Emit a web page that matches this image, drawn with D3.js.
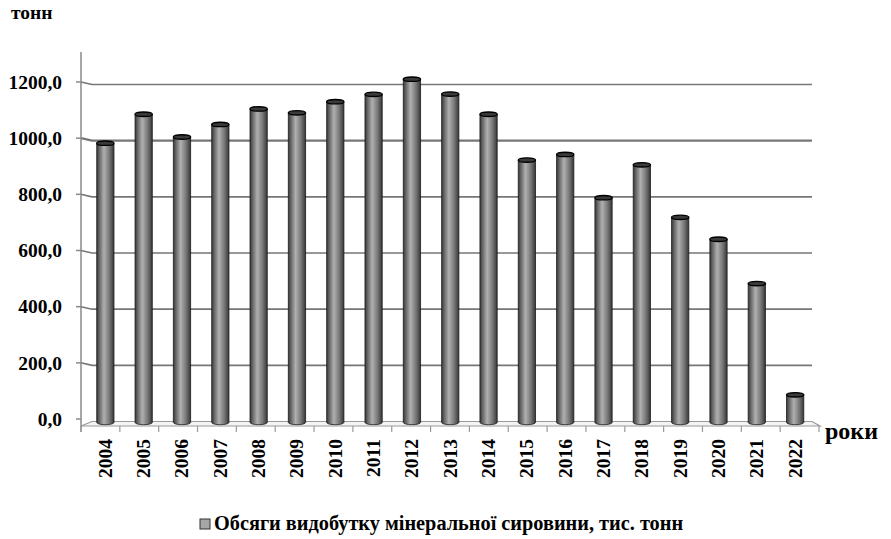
<!DOCTYPE html>
<html>
<head>
<meta charset="utf-8">
<script src="https://cdn.jsdelivr.net/npm/d3@7.9.0/dist/d3.min.js"></script>
<style>
  body { margin: 0; background: #fff; }
  svg { display: block; }
  text { font-family: "Liberation Serif", "Times New Roman", serif; font-weight: bold; fill: #000; }
</style>
</head>
<body>
<div id="chart"></div>
<script>
const years = ['2004', '2005', '2006', '2007', '2008', '2009', '2010', '2011', '2012', '2013',
  '2014', '2015', '2016', '2017', '2018', '2019', '2020', '2021', '2022'];
const volumes = [991, 1094, 1013, 1058, 1113, 1099, 1139, 1165, 1219, 1166,
  1094, 931, 951, 797, 914, 727, 649, 491, 95];
const yTicks = [0, 200, 400, 600, 800, 1000, 1200];
const yUnit = 'тонн';
const xUnit = 'роки';
const legendLabel = 'Обсяги видобутку мінеральної сировини, тис. тонн';

const width = 891, height = 539;
const depthX = 11, depthY = 4.5;   // 3D offset of the back wall

const svg = d3.select('#chart').append('svg')
  .attr('width', width).attr('height', height);

const defs = svg.append('defs');
const grad = defs.append('linearGradient').attr('id', 'cyl')
  .attr('x1', '0%').attr('x2', '100%').attr('y1', '0%').attr('y2', '0%');
grad.append('stop').attr('offset', '0%').attr('stop-color', '#383838');
grad.append('stop').attr('offset', '15%').attr('stop-color', '#666');
grad.append('stop').attr('offset', '42%').attr('stop-color', '#b0b0b0');
grad.append('stop').attr('offset', '75%').attr('stop-color', '#747474');
grad.append('stop').attr('offset', '100%').attr('stop-color', '#363636');

// front plane (axis) and back plane (walls, bars)
const xFront = d3.scaleBand().domain(years).range([81, 819]);
const xBack = d3.scaleBand().domain(years).range([86, 814.5]).paddingInner(0.55).paddingOuter(0.28);
const yBack = d3.scaleLinear().domain([0, 1200]).range([421.5, 84.5]);

// gridlines on back wall
const grid = svg.append('g');
grid.selectAll('path.grid')
  .data(yTicks.filter(d => d > 0))
  .join('path')
  .attr('class', 'grid')
  .attr('d', d => `M81,${yBack(d) - 2.5}L${81 + depthX},${yBack(d)}H812`)
  .attr('fill', 'none')
  .attr('stroke', '#777')
  .attr('stroke-width', d => d === 1000 ? 2.2 : 1.6);

// floor
const f0 = yBack(0);
svg.append('path')
  .attr('d', `M81,${f0 + depthY}L${81 + depthX},${f0}H812L820,${f0 + depthY}Z`)
  .attr('fill', '#f4f4f4')
  .attr('stroke', '#9a9a9a')
  .attr('stroke-width', 1.2);

// left axis
svg.append('line').attr('x1', 81).attr('x2', 81).attr('y1', 52).attr('y2', f0 + depthY + 6)
  .attr('stroke', '#8a8a8a').attr('stroke-width', 1.5);
const ya = svg.append('g').attr('transform', 'translate(81,0)');
ya.call(d3.axisLeft(yBack).tickValues(yTicks).tickSize(5)
  .tickFormat(d => d3.format('.1f')(d).replace('.', ',')));
ya.select('.domain').remove();
ya.selectAll('.tick').attr('transform', d => `translate(0,${yBack(d) - 2.5})`);
ya.selectAll('.tick line').attr('stroke', '#8a8a8a').attr('stroke-width', 1.5);
ya.selectAll('.tick text').attr('x', -19).attr('dy', '0.35em')
  .style('font-size', '19.5px').style('font-family', '"Liberation Serif", serif').style('font-weight', 'bold');

// bottom axis ticks and labels
const xa = svg.append('g').attr('transform', `translate(0,${f0 + depthY})`);
xa.selectAll('line')
  .data(years.concat(['end']))
  .join('line')
  .attr('x1', (d, i) => 81 + i * xFront.step())
  .attr('x2', (d, i) => 81 + i * xFront.step())
  .attr('y1', 0).attr('y2', 6)
  .attr('stroke', '#9a9a9a').attr('stroke-width', 1.2);
xa.selectAll('text')
  .data(years)
  .join('text')
  .attr('transform', d => `translate(${xBack(d) + xBack.bandwidth() / 2 + 6.5},13) rotate(-90)`)
  .attr('text-anchor', 'end')
  .style('font-size', '19.5px')
  .text(d => d);

// cylinders
const bars = svg.append('g');
const rx = xBack.bandwidth() / 2, ry = 2.2;
const g = bars.selectAll('g.bar')
  .data(years.map((y, i) => ({ year: y, value: volumes[i] })))
  .join('g').attr('class', 'bar');
g.append('path')
  .attr('d', d => {
    const x0 = xBack(d.year), x1 = x0 + xBack.bandwidth();
    const yt = yBack(d.value), yb = f0 + 1;
    return `M${x0},${yt}V${yb}A${rx},${ry} 0 0 0 ${x1},${yb}V${yt}Z`;
  })
  .attr('fill', 'url(#cyl)')
  .attr('stroke', '#1a1a1a')
  .attr('stroke-width', 0.8);
g.append('ellipse')
  .attr('cx', d => xBack(d.year) + rx)
  .attr('cy', d => yBack(d.value))
  .attr('rx', rx).attr('ry', ry)
  .attr('fill', '#3a3a3a')
  .attr('stroke', '#000')
  .attr('stroke-width', 1.4);

// axis titles
svg.append('text').attr('x', 11).attr('y', 19).style('font-size', '19.5px').text(yUnit);
svg.append('text').attr('x', 825).attr('y', 439).style('font-size', '24px').text(xUnit);

// legend
const lg = svg.append('g').attr('transform', 'translate(200,519)');
lg.append('rect').attr('x', 0).attr('y', 0).attr('width', 10).attr('height', 10)
  .attr('fill', '#a6a6a6').attr('stroke', '#333').attr('stroke-width', 1);
lg.append('text').attr('x', 14).attr('y', 11).style('font-size', '20.3px').text(legendLabel);
</script>
</body>
</html>
